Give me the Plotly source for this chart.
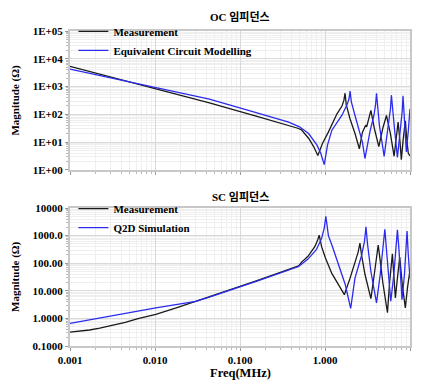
import numpy as np
import plotly.graph_objects as go

# ---------------- data (log10 units) ----------------
# OC impedance, Measurement
oc_meas_logf = [-3, -2.5, -2, -1.36, -0.8, -0.427, -0.32, -0.28, -0.193, -0.134, -0.084, -0.03, 0.041,
                0.141, 0.2, 0.222, 0.236, 0.25, 0.294, 0.353, 0.404, 0.44, 0.478, 0.49, 0.515, 0.54,
                0.58, 0.633, 0.68, 0.723, 0.77, 0.813, 0.84, 0.86, 0.88, 0.898, 0.92, 0.945, 0.965,
                0.98, 1.0]
oc_meas_logm = [3.73, 3.33, 2.95, 2.41, 1.93, 1.61, 1.5, 1.45, 1.14, 0.84, 0.52, 0.95, 1.37,
                2.02, 2.3, 2.5, 2.76, 2.35, 1.84, 1.31, 0.76, 1.35, 1.61, 1.55, 1.8, 2.14,
                1.5, 0.84, 1.5, 1.96, 1.3, 0.49, 1.2, 1.72, 1.1, 0.37, 1.1, 1.77, 1.0,
                0.6, 0.5]
# OC impedance, Equivalent Circuit Modelling
oc_model_logf = [-3, -2.5, -2, -1.36, -0.8, -0.427, -0.3, -0.193, -0.096, -0.05, -0.009, 0.03, 0.081,
                 0.198, 0.26, 0.282, 0.295, 0.31, 0.353, 0.411, 0.44, 0.47, 0.53, 0.575, 0.595, 0.606,
                 0.62, 0.64, 0.696, 0.74, 0.77, 0.781, 0.795, 0.82, 0.852, 0.89, 0.908, 0.918, 0.93,
                 0.957, 0.98, 1.0]
oc_model_logm = [3.63, 3.30, 2.97, 2.55, 2.05, 1.72, 1.55, 1.31, 0.9, 0.6, 0.19, 0.9, 1.43,
                 1.96, 2.35, 2.55, 2.84, 2.45, 1.96, 1.37, 1.0, 0.41, 1.4, 1.95, 2.35, 2.76,
                 2.2, 1.6, 0.49, 1.5, 2.2, 2.69, 2.1, 1.4, 0.45, 1.5, 2.1, 2.67, 2.0,
                 0.65, 1.4, 2.2]
# SC impedance, Measurement
sc_meas_logf = [-3, -2.9, -2.77, -2.65, -2.53, -2.35, -2.2, -1.99, -1.75, -1.52, -1.36, -0.8, -0.31,
                -0.275, -0.2, -0.12, -0.085, -0.068, -0.04, 0.002, 0.08, 0.158, 0.228, 0.294, 0.352,
                0.39, 0.411, 0.43, 0.47, 0.54, 0.58, 0.61, 0.626, 0.645, 0.68, 0.735, 0.76, 0.793,
                0.81, 0.828, 0.85, 0.879, 0.91, 0.945, 0.97, 1.0]
sc_meas_logm = [-0.50, -0.47, -0.42, -0.35, -0.27, -0.14, -0.01, 0.15, 0.38, 0.62, 0.77, 1.37, 1.90,
                2.04, 2.25, 2.6, 2.85, 3.02, 2.6, 2.22, 1.63, 1.22, 0.86, 1.45, 1.98,
                2.4, 2.73, 2.3, 1.6, 0.72, 1.6, 2.3, 2.66, 2.2, 1.3, 0.21, 1.3, 2.34,
                1.5, 0.74, 1.4, 2.22, 1.2, 0.38, 1.1, 1.76]
# SC impedance, Q2D Simulation
sc_sim_logf = [-3, -2.53, -1.99, -1.52, -1.36, -0.8, -0.31, -0.2, -0.1, -0.04, -0.01, 0.01, 0.04,
               0.083, 0.161, 0.239, 0.302, 0.352, 0.43, 0.465, 0.482, 0.5, 0.54, 0.606, 0.65, 0.685,
               0.704, 0.72, 0.774, 0.81, 0.838, 0.852, 0.87, 0.906, 0.935, 0.955, 0.965, 0.98, 1.0]
sc_sim_logm = [-0.18, 0.09, 0.385, 0.62, 0.77, 1.35, 1.88, 2.15, 2.5, 2.9, 3.25, 3.70, 3.0,
               2.64, 1.93, 1.22, 0.36, 1.45, 2.28, 2.8, 3.32, 2.7, 1.7, 0.56, 1.6, 2.6,
               3.23, 2.6, 0.62, 1.6, 2.6, 3.21, 2.5, 0.68, 1.6, 2.5, 3.17, 2.3, 1.45]

x_tickvals = [0.001, 0.01, 0.1, 1, 10]
x_ticktext = ["0.001", "0.010", "0.100", "1.000", "10.00"]
oc_tickvals = [1, 10, 100, 1000, 10000, 100000]
oc_ticktext = ["1E+00", "1E+01", "1E+02", "1E+03", "1E+04", "1E+05"]
sc_tickvals = [0.1, 1, 10, 100, 1000, 10000]
sc_ticktext = ["0.1000", "1.0000", "10.000", "100.00", "1000.0", "10000"]

def tolin(a):
    return np.power(10.0, np.array(a))

FONT = "Liberation Serif, Times New Roman, Noto Sans CJK KR, serif"
BLACK = "#1a1a1a"
BLUE = "#2b2bf0"

fig = go.Figure()
fig.add_trace(go.Scatter(x=tolin(oc_meas_logf), y=tolin(oc_meas_logm), mode="lines",
                         name="Measurement", line=dict(color=BLACK, width=1.3),
                         xaxis="x", yaxis="y", legend="legend"))
fig.add_trace(go.Scatter(x=tolin(oc_model_logf), y=tolin(oc_model_logm), mode="lines",
                         name="Equivalent Circuit Modelling", line=dict(color=BLUE, width=1.3),
                         xaxis="x", yaxis="y", legend="legend"))
fig.add_trace(go.Scatter(x=tolin(sc_meas_logf), y=tolin(sc_meas_logm), mode="lines",
                         name="Measurement", line=dict(color=BLACK, width=1.3),
                         xaxis="x2", yaxis="y2", legend="legend2"))
fig.add_trace(go.Scatter(x=tolin(sc_sim_logf), y=tolin(sc_sim_logm), mode="lines",
                         name="Q2D Simulation", line=dict(color=BLUE, width=1.3),
                         xaxis="x2", yaxis="y2", legend="legend2"))

tickfont = dict(family=FONT, size=11, color="#000", weight="bold")
grid = dict(showgrid=True, gridcolor="#d9d9d9", gridwidth=1,
            showline=True, linecolor="#c8c8c8", linewidth=2, mirror=True,
            ticks="outside", ticklen=3, tickcolor="#999",
            minor=dict(dtick="D1", showgrid=True, gridcolor="#efefef", gridwidth=1,
                       ticks="outside", ticklen=2, tickcolor="#bbb"),
            zeroline=False, tickfont=tickfont)

# page has an 8px body margin; figure sized so the plot lands where the reference has it
top_dom = [0.559, 1.0]
bot_dom = [0.0, 0.438]

fig.update_layout(
    width=413, height=375,
    margin=dict(l=62, r=9, t=16, b=37),
    paper_bgcolor="white", plot_bgcolor="white",
    font=dict(family=FONT, size=11, color="#000"),
    xaxis=dict(type="log", range=[-3, 1], domain=[0, 1], anchor="y",
               tickvals=x_tickvals, ticktext=x_ticktext, showticklabels=False, **grid),
    yaxis=dict(type="log", range=[0, 5], domain=top_dom, anchor="x",
               tickvals=oc_tickvals, ticktext=oc_ticktext, **grid),
    xaxis2=dict(type="log", range=[-3, 1], domain=[0, 1], anchor="y2",
                tickvals=x_tickvals, ticktext=x_ticktext, **grid),
    yaxis2=dict(type="log", range=[-1, 4], domain=bot_dom, anchor="x2",
                tickvals=sc_tickvals, ticktext=sc_ticktext, **grid),
    legend=dict(x=0.01, y=1.045, xanchor="left", yanchor="top", bgcolor="rgba(0,0,0,0)",
                font=dict(family=FONT, size=11, weight="bold"), tracegroupgap=0,
                itemwidth=30),
    legend2=dict(x=0.01, y=0.482, xanchor="left", yanchor="top", bgcolor="rgba(0,0,0,0)",
                 font=dict(family=FONT, size=11, weight="bold"), tracegroupgap=0,
                 itemwidth=30),
    annotations=[
        dict(text="OC 임피던스", x=0.5, y=1.043, xref="paper", yref="paper", showarrow=False,
             font=dict(family=FONT, size=11, weight="bold"), yanchor="middle"),
        dict(text="SC 임피던스", x=0.5, y=0.472, xref="paper", yref="paper", showarrow=False,
             font=dict(family=FONT, size=11, weight="bold"), yanchor="middle"),
        dict(text="Magnitude (Ω)", x=-0.161, y=0.78, xref="paper", yref="paper", showarrow=False,
             textangle=-90, font=dict(family=FONT, size=11, weight="bold"),
             xanchor="center", yanchor="middle"),
        dict(text="Magnitude (Ω)", x=-0.161, y=0.22, xref="paper", yref="paper", showarrow=False,
             textangle=-90, font=dict(family=FONT, size=11, weight="bold"),
             xanchor="center", yanchor="middle"),
        dict(text="Freq(MHz)", x=0.5, y=-0.086, xref="paper", yref="paper", showarrow=False,
             font=dict(family=FONT, size=12.5, weight="bold"), yanchor="middle"),
    ],
)

fig.write_html("out.html")
